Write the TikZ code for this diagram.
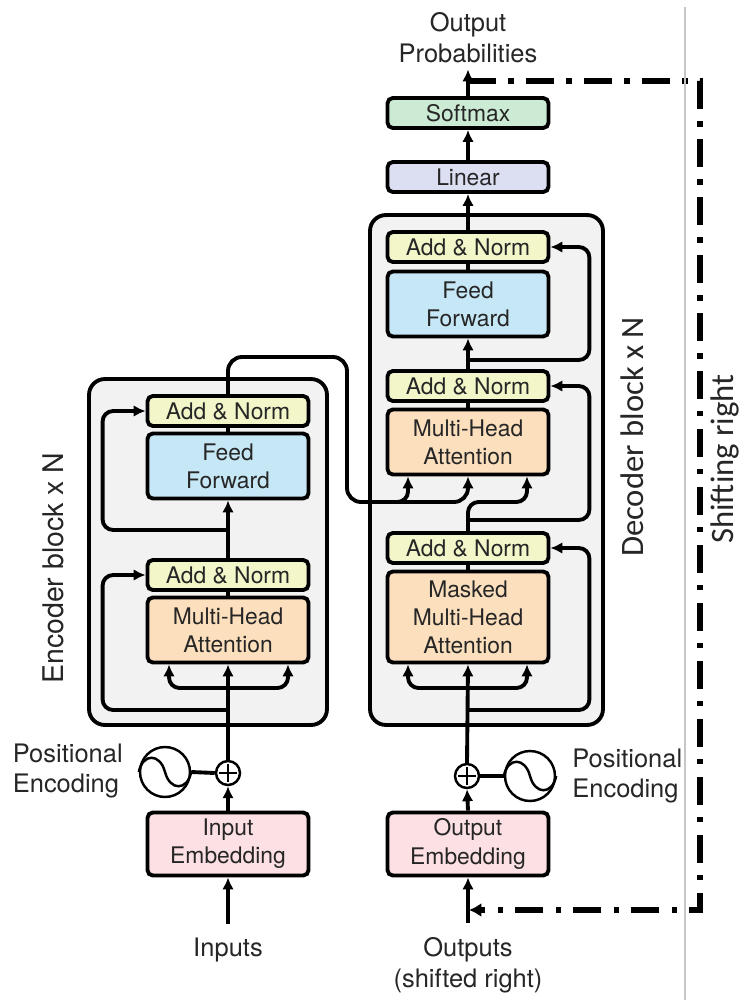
\documentclass[tikz,border=0pt]{standalone}
\usepackage{fontspec}
\setmainfont{TeX Gyre Heros}
\newfontfamily\calfont{Carlito}
\usetikzlibrary{arrows.meta}

\definecolor{normfill}{RGB}{242,246,201}
\definecolor{fffill}{RGB}{198,231,246}
\definecolor{attfill}{RGB}{252,224,190}
\definecolor{embfill}{RGB}{252,224,227}
\definecolor{linfill}{RGB}{220,223,242}
\definecolor{softfill}{RGB}{204,235,212}
\definecolor{blockfill}{RGB}{242,242,242}

\begin{document}
\begin{tikzpicture}[x=0.02cm, y=-0.02cm, every node/.style={font=\fontsize{13}{16}\selectfont, align=center, inner sep=0pt, text=black!85}]

	\tikzset{edge/.style = {->,> = {Latex[length=6.8pt,width=6.6pt]}, line width=2.2pt},
		link/.style = {line width=2.2pt},
		unit/.style = {draw=black, line width=2.2pt, rounded corners=3pt, minimum width=3.22cm},
		normbox/.style = {unit, minimum height=0.6cm},
		bigbox/.style = {unit, minimum height=1.3cm},
		blockbox/.style = {draw=black, line width=2.2pt, rounded corners=9pt, fill=blockfill},
		textlab/.style = {font=\fontsize{14.5}{17.5}\selectfont},
		sidelab/.style = {font=\calfont\fontsize{18.6}{20}\selectfont, rotate=90},
		sinecirc/.style = {circle, draw=black, line width=1.4pt, minimum size=1cm},
		pluscirc/.style = {circle, draw=black, line width=1.4pt, minimum size=0.48cm},
		shiftline/.style = {->, >={Latex[length=7pt,width=8pt]}, line width=3.3pt, dash pattern=on 16pt off 7pt on 3pt off 7pt}}

	\useasboundingbox (0,0) rectangle (743,1000);

	% blocks
	\node[blockbox, minimum width=4.76cm, minimum height=6.92cm] (encblock) at (208,552) {};
	\node[blockbox, minimum width=4.66cm, minimum height=10.2cm] (decblock) at (486.5,470) {};

	% encoder
	\node[normbox, fill=normfill] (eAN2) at (228,411) {Add \& Norm};
	\node[bigbox, fill=fffill] (eFF) at (228,466) {Feed\\Forward};
	\node[normbox, fill=normfill] (eAN1) at (228,575) {Add \& Norm};
	\node[bigbox, fill=attfill] (eMHA) at (228,630) {Multi-Head\\Attention};
	\node[pluscirc] (eplus) at (228,773) {};
	\node[sinecirc] (esine) at (165,772) {};
	\node[bigbox, fill=embfill, minimum height=1.26cm] (eemb) at (228,844) {Input\\Embedding};
	\node[textlab] (inputs) at (228,950) {Inputs};
	\node[textlab, anchor=east, align=left] (epos) at (123,771) {Positional\\Encoding};
	\node[rotate=90, font=\fontsize{16.2}{18}\selectfont] (enclab) at (53,568) {Encoder block x N};

	% decoder
	\node[normbox, fill=normfill] (dAN3) at (468,247) {Add \& Norm};
	\node[bigbox, fill=fffill] (dFF) at (468,304) {Feed\\Forward};
	\node[normbox, fill=normfill] (dAN2) at (468,386) {Add \& Norm};
	\node[bigbox, fill=attfill] (dMHA) at (468,442) {Multi-Head\\Attention};
	\node[normbox, fill=normfill] (dAN1) at (468,548) {Add \& Norm};
	\node[bigbox, fill=attfill, minimum height=1.82cm] (dMMHA) at (468,617) {Masked\\Multi-Head\\Attention};
	\node[normbox, fill=linfill] (lin) at (468,177) {Linear};
	\node[normbox, fill=softfill] (soft) at (468,113) {Softmax};
	\node[textlab] (outprob) at (468,38) {Output\\Probabilities};
	\node[pluscirc] (dplus) at (467,776) {};
	\node[sinecirc] (dsine) at (530,776) {};
	\node[bigbox, fill=embfill, minimum height=1.26cm] (demb) at (468,844) {Output\\Embedding};
	\node[textlab] (outputs) at (468,965) {Outputs\\(shifted right)};
	\node[textlab, anchor=west, align=left] (dpos) at (572,776) {Positional\\Encoding};
	\node[sidelab] (declab) at (632,437) {Decoder block x N};
	\node[sidelab] (shiftlab) at (725,459) {Shifting right};

	\coordinate (esplit) at (228,688);
	\coordinate (eres1) at (228,710);
	\coordinate (eres2) at (228,530);
	\coordinate (encup) at (347,357);
	\coordinate (encdown) at (347,502);
	\coordinate (kvsplit) at (380,502);
	\coordinate (dsplit) at (468,688);
	\coordinate (dres1) at (468,710);
	\coordinate (dres2) at (468,520);
	\coordinate (dres3) at (468,360);
	\coordinate (qturn) at (468,502);
	\coordinate (shiftstart) at (468,81);
	\coordinate (shiftTR) at (700,81);
	\coordinate (shiftBR) at (700,910);
	\coordinate (shiftend) at (469,910);

	% sine and plus
	\foreach \s/\p in {esine/eplus, dsine/dplus} {
		\draw[line width=1.4pt] (\s.west) .. controls +(4,-19) and +(-5,-19) .. (\s.center) .. controls +(5,19) and +(-4,19) .. (\s.east);
		\draw[line width=1.4pt] ([yshift=0.18cm]\p.center) -- ([yshift=-0.18cm]\p.center);
		\draw[line width=1.4pt] ([xshift=-0.18cm]\p.center) -- ([xshift=0.18cm]\p.center);
	}
	\draw[link] (esine.east) -- (eplus.west);
	\draw[link] (dsine.west) -- (dplus.east);

	% encoder connectors
	\draw[edge] ([yshift=0.28cm]inputs.north) -- (eemb.south);
	\draw[edge] (eemb.north) -- (eplus.south);
	\draw[edge] (eplus.north) -- (eMHA.south);
	\draw[edge, rounded corners=6pt] (esplit) -| ([xshift=-1.18cm]eMHA.south);
	\draw[edge, rounded corners=6pt] (esplit) -| ([xshift=1.2cm]eMHA.south);
	\draw[edge, rounded corners=6pt] (eres1) -| ([xshift=-0.86cm]eAN1.west) -- (eAN1.west);
	\draw[link] (eMHA.north) -- (eAN1.south);
	\draw[edge] (eAN1.north) -- (eFF.south);
	\draw[edge, rounded corners=6pt] (eres2) -| ([xshift=-0.86cm]eAN2.west) -- (eAN2.west);
	\draw[link] (eFF.north) -- (eAN2.south);
	\draw[edge, rounded corners=8pt] (eAN2.north) |- (encup) -- (encdown) -| (dMHA.south);
	\draw[edge, rounded corners=6pt] (kvsplit) -| ([xshift=-1.2cm]dMHA.south);

	% decoder connectors
	\draw[edge] ([yshift=0.28cm]outputs.north) -- (demb.south);
	\draw[edge] (demb.north) -- (dplus.south);
	\draw[edge] (dplus.north) -- (dMMHA.south);
	\draw[edge, rounded corners=6pt] (dsplit) -| ([xshift=-1.2cm]dMMHA.south);
	\draw[edge, rounded corners=6pt] (dsplit) -| ([xshift=1.18cm]dMMHA.south);
	\draw[edge, rounded corners=6pt] (dres1) -| ([xshift=0.78cm]dAN1.east) -- (dAN1.east);
	\draw[link] (dMMHA.north) -- (dAN1.south);
	\draw[edge, rounded corners=6pt] (dAN1.north) -- (qturn) -| ([xshift=1.18cm]dMHA.south);
	\draw[edge, rounded corners=6pt] (dres2) -| ([xshift=0.78cm]dAN2.east) -- (dAN2.east);
	\draw[link] (dMHA.north) -- (dAN2.south);
	\draw[edge] (dAN2.north) -- (dFF.south);
	\draw[edge, rounded corners=6pt] (dres3) -| ([xshift=0.78cm]dAN3.east) -- (dAN3.east);
	\draw[link] (dFF.north) -- (dAN3.south);
	\draw[edge] (dAN3.north) -- (lin.south);
	\draw[edge] (lin.north) -- (soft.south);
	\draw[edge] (soft.north) -- ([yshift=-0.12cm]outprob.south);

	% shifting right
	\draw[shiftline] (shiftstart) -- (shiftTR) -- (shiftBR) -- (shiftend);
	\draw[gray!45, line width=0.6pt] (685,7) -- (685,1000);

\end{tikzpicture}
\end{document}
